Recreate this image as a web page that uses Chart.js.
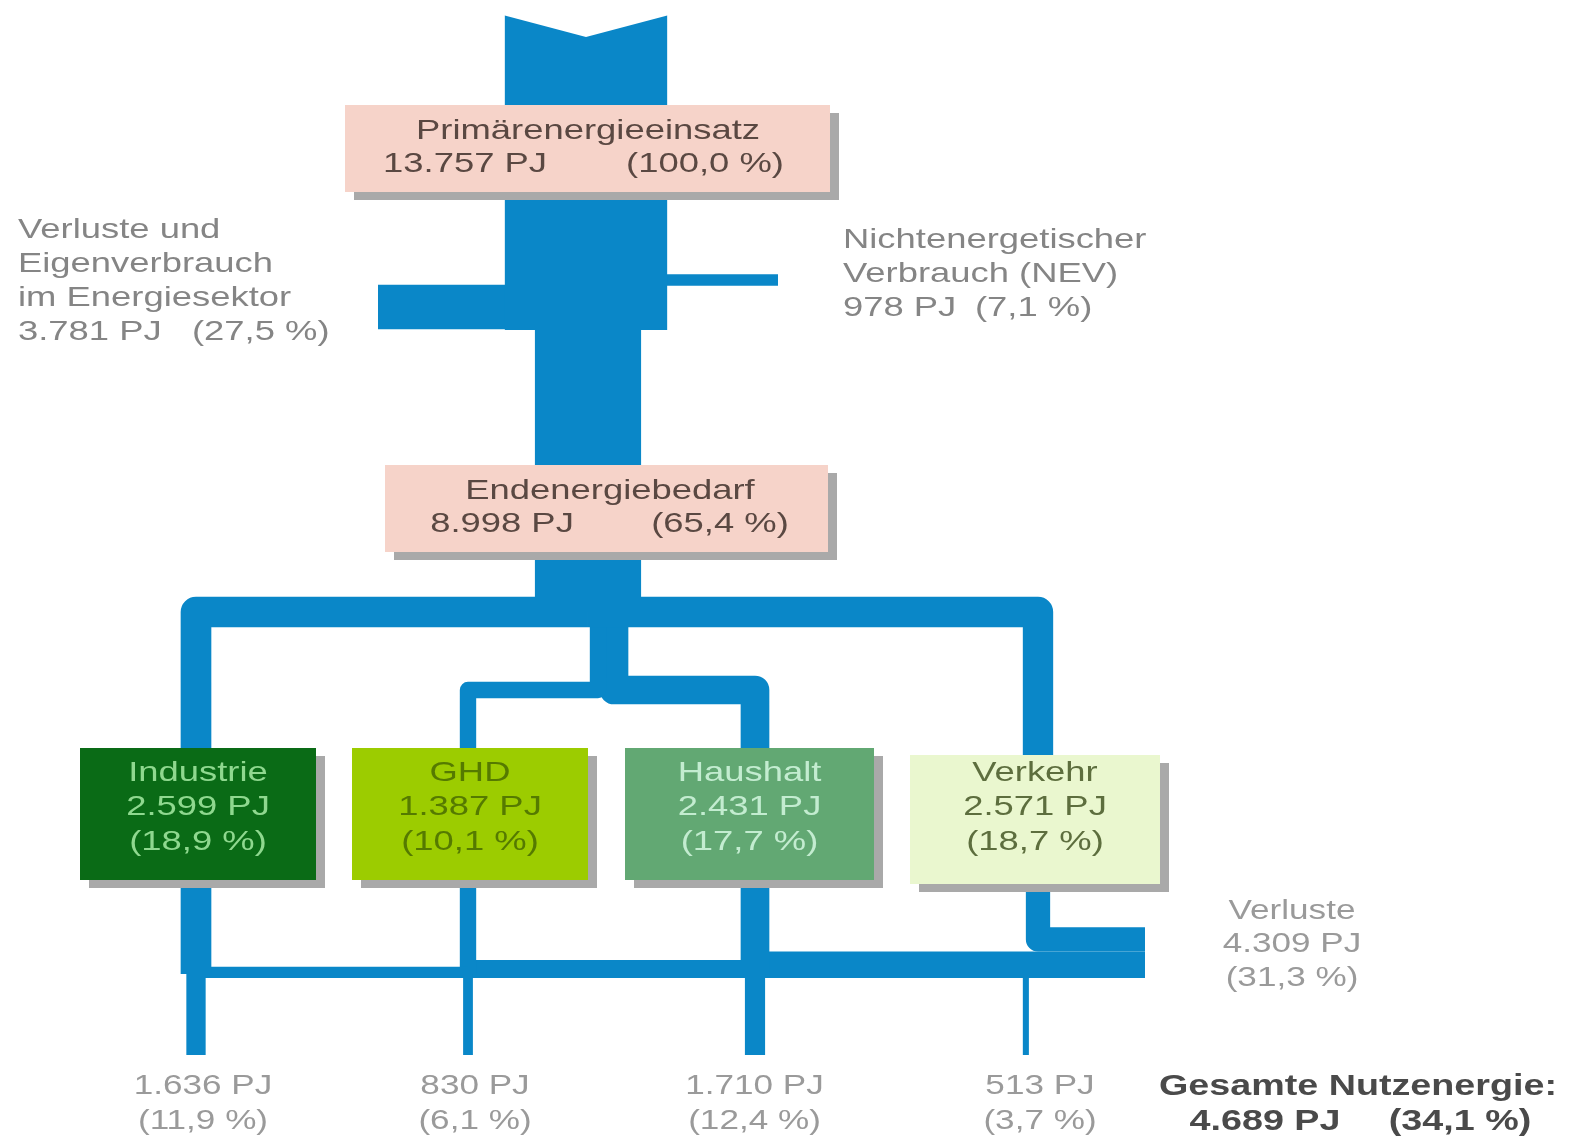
<!DOCTYPE html>
<html>
<head>
<meta charset="utf-8">
<script src="https://cdn.jsdelivr.net/npm/chart.js@4.4.0/dist/chart.umd.min.js"></script>
<style>
  body { margin: 0; background: #fff; }
  canvas { display: block; }
</style>
</head>
<body>
<canvas id="flowChart" width="1577" height="1147"></canvas>
<script>
// energy flow values (PJ and share of primary energy)
const stages = ["Primärenergieeinsatz", "Endenergiebedarf"];
const stagePJ = [13757, 8998];
const stagePct = [100.0, 65.4];

const branches = ["Verluste und|Eigenverbrauch|im Energiesektor", "Nichtenergetischer|Verbrauch (NEV)"];
const branchPJ = [3781, 978];
const branchPct = [27.5, 7.1];

const sectors = ["Industrie", "GHD", "Haushalt", "Verkehr"];
const sectorPJ = [2599, 1387, 2431, 2571];
const sectorPct = [18.9, 10.1, 17.7, 18.7];

const usefulPJ = [1636, 830, 1710, 513];
const usefulPct = [11.9, 6.1, 12.4, 3.7];

const totalLoss = [4309, 31.3];
const totalUseful = [4689, 34.1];

// layout, in canvas units (axes are hidden and map 1:1 to pixels)
const W = 1577, H = 1147;
const k = 0.0118; // px of line width per PJ
const L = {
  trunkX: 586, trunkTop: 15, trunkEnd: 330,
  stemX: 588, stemTop: 320, splitY: 600, busY: 612, midY: 690,
  lossY: 307, lossEndX: 378, nevY: 280, nevEndX: 778,
  colX: [196, 468, 755, 1038],
  midX: [598, 614],
  collectorBottom: 978, collectorEndX: 1145, baseY: 1055,
  textY: [773, 807, 842]
};
const boxes = [
  { x0: 80, x1: 316, y0: 748, y1: 880, fill: "#0a6b16", ink: "#8fd88f" },
  { x0: 352, x1: 588, y0: 748, y1: 880, fill: "#9ccc00", ink: "#557a00" },
  { x0: 625, x1: 874, y0: 748, y1: 880, fill: "#62a873", ink: "#c3ecd0" },
  { x0: 910, x1: 1160, y0: 755, y1: 884, fill: "#eaf7cf", ink: "#5d6e3e" }
];
const stageBoxes = [
  { x0: 345, x1: 830, y0: 105, y1: 192, cx: 588, vx: 465, px: 705 },
  { x0: 385, x1: 828, y0: 465, y1: 552, cx: 610, vx: 502, px: 720 }
];
const flowColor = "#0a87c8";
const STRETCH = 1.3;

function fmtPJ(v) {
  return String(v).replace(/\B(?=(\d{3})+(?!\d))/g, ".") + " PJ";
}
function fmtPct(v) {
  return "(" + v.toFixed(1).replace(".", ",") + " %)";
}

// build flows
const flows = [];
flows.push({ v: stagePJ[0], pts: [[L.trunkX, L.trunkTop], [L.trunkX, L.trunkEnd]] });
flows.push({ v: branchPJ[0], pts: [[L.trunkX, L.lossY], [L.lossEndX, L.lossY]] });
flows.push({ v: branchPJ[1], pts: [[L.trunkX, L.nevY], [L.nevEndX, L.nevY]] });
flows.push({ v: stagePJ[1], pts: [[L.stemX, L.stemTop], [L.stemX, L.splitY]] });
flows.push({ v: sectorPJ[0], pts: [[L.stemX, L.busY], [L.colX[0], L.busY], [L.colX[0], boxes[0].y0 + 5]] });
flows.push({ v: sectorPJ[3], pts: [[L.stemX, L.busY], [L.colX[3], L.busY], [L.colX[3], boxes[3].y0 + 5]] });
flows.push({ v: sectorPJ[1], pts: [[L.midX[0], L.splitY - 10], [L.midX[0], L.midY], [L.colX[1], L.midY], [L.colX[1], boxes[1].y0 + 5]] });
flows.push({ v: sectorPJ[2], pts: [[L.midX[1], L.splitY - 10], [L.midX[1], L.midY], [L.colX[2], L.midY], [L.colX[2], boxes[2].y0 + 5]] });

// losses collected along the bottom
let cum = 0;
for (let i = 0; i < 3; i++) {
  const loss = sectorPJ[i] - usefulPJ[i];
  cum += loss;
  const w = cum * k;
  const xEnd = i < 2 ? L.colX[i + 1] : L.collectorEndX;
  flows.push({ v: sectorPJ[i], pts: [[L.colX[i], boxes[i].y1 - 5], [L.colX[i], L.collectorBottom - 4]] });
  flows.push({ v: usefulPJ[i], pts: [[L.colX[i], L.collectorBottom - 6], [L.colX[i], L.baseY]] });
  flows.push({ v: cum, pts: [[L.colX[i], L.collectorBottom - w / 2], [xEnd, L.collectorBottom - w / 2]] });
}
const lossV = sectorPJ[3] - usefulPJ[3];
const yV = L.collectorBottom - cum * k - lossV * k / 2;
flows.push({ v: lossV, pts: [[L.colX[3], boxes[3].y1 - 5], [L.colX[3], yV], [L.collectorEndX, yV]] });
const uX = L.colX[3] - (sectorPJ[3] * k) / 2 + (usefulPJ[3] * k) / 2;
flows.push({ v: usefulPJ[3], pts: [[uX, L.collectorBottom - 4], [uX, L.baseY]] });

const decorPlugin = {
  id: "decor",
  afterDatasetsDraw(chart) {
    const ctx = chart.ctx;
    const xs = chart.scales.x, ys = chart.scales.y;
    const px = (v) => xs.getPixelForValue(v);
    const py = (v) => ys.getPixelForValue(v);

    function text(s, x, y, font, color, align) {
      ctx.save();
      ctx.font = font;
      ctx.fillStyle = color;
      ctx.textAlign = align || "center";
      ctx.textBaseline = "middle";
      ctx.translate(px(x), py(y));
      ctx.scale(STRETCH, 1);
      ctx.fillText(s, 0, 0);
      ctx.restore();
    }
    function rect(b, fill) {
      ctx.fillStyle = "#a9a9a9";
      ctx.fillRect(px(b.x0) + 9, py(b.y0) + 8, px(b.x1) - px(b.x0), py(b.y1) - py(b.y0));
      ctx.fillStyle = fill;
      ctx.fillRect(px(b.x0), py(b.y0), px(b.x1) - px(b.x0), py(b.y1) - py(b.y0));
    }

    // notch at the top of the trunk
    const hw = stagePJ[0] * k / 2 + 2;
    ctx.fillStyle = "#fff";
    ctx.beginPath();
    ctx.moveTo(px(L.trunkX - hw), py(0));
    ctx.lineTo(px(L.trunkX + hw), py(0));
    ctx.lineTo(px(L.trunkX + hw), py(L.trunkTop));
    ctx.lineTo(px(L.trunkX), py(L.trunkTop + 22));
    ctx.lineTo(px(L.trunkX - hw), py(L.trunkTop));
    ctx.closePath();
    ctx.fill();

    const f = "28px 'Liberation Sans', Arial, sans-serif";
    const fb = "bold 29px 'Liberation Sans', Arial, sans-serif";
    const fs = "27px 'Liberation Sans', Arial, sans-serif";

    stageBoxes.forEach((b, i) => {
      rect(b, "#f6d3c9");
      const mid = (b.y0 + b.y1) / 2;
      text(stages[i], b.cx, mid - 17, f, "#5a4842");
      text(fmtPJ(stagePJ[i]), b.vx, mid + 16, f, "#5a4842");
      text(fmtPct(stagePct[i]), b.px, mid + 16, f, "#5a4842");
    });

    boxes.forEach((b, i) => {
      rect(b, b.fill);
      const cx = (b.x0 + b.x1) / 2;
      text(sectors[i], cx, L.textY[0], f, b.ink);
      text(fmtPJ(sectorPJ[i]), cx, L.textY[1], f, b.ink);
      text(fmtPct(sectorPct[i]), cx, L.textY[2], f, b.ink);
      text(fmtPJ(usefulPJ[i]), cx + 5, 1087, fs, "#9a9a9a");
      text(fmtPct(usefulPct[i]), cx + 5, 1122, fs, "#9a9a9a");
    });

    // side labels
    const grey = "#858585";
    branches[0].split("|").forEach((s, i) => text(s, 18, 230 + i * 34, f, grey, "left"));
    text(fmtPJ(branchPJ[0]), 18, 332, f, grey, "left");
    text(fmtPct(branchPct[0]), 192, 332, f, grey, "left");
    branches[1].split("|").forEach((s, i) => text(s, 843, 240 + i * 34, f, grey, "left"));
    text(fmtPJ(branchPJ[1]), 843, 308, f, grey, "left");
    text(fmtPct(branchPct[1]), 975, 308, f, grey, "left");

    text("Verluste", 1292, 912, fs, "#9a9a9a");
    text(fmtPJ(totalLoss[0]), 1292, 945, fs, "#9a9a9a");
    text(fmtPct(totalLoss[1]), 1292, 979, fs, "#9a9a9a");

    text("Gesamte Nutzenergie:", 1358, 1087, fb, "#4a4a4a");
    text(fmtPJ(totalUseful[0]), 1265, 1122, fb, "#4a4a4a");
    text(fmtPct(totalUseful[1]), 1460, 1122, fb, "#4a4a4a");
  }
};

new Chart(document.getElementById("flowChart").getContext("2d"), {
  type: "scatter",
  data: {
    datasets: flows.map((fl) => ({
      data: fl.pts.map((p) => ({ x: p[0], y: p[1] })),
      showLine: true,
      fill: false,
      tension: 0.0001,
      borderColor: flowColor,
      backgroundColor: flowColor,
      borderWidth: Math.max(5, fl.v * k),
      borderJoinStyle: "round",
      borderCapStyle: "butt",
      pointRadius: 0,
      pointHoverRadius: 0
    }))
  },
  options: {
    responsive: false,
    animation: false,
    events: [],
    layout: { padding: 0 },
    plugins: { legend: { display: false }, tooltip: { enabled: false } },
    scales: {
      x: { type: "linear", min: 0, max: W, display: false },
      y: { type: "linear", min: 0, max: H, reverse: true, display: false }
    }
  },
  plugins: [decorPlugin]
});
</script>
</body>
</html>
